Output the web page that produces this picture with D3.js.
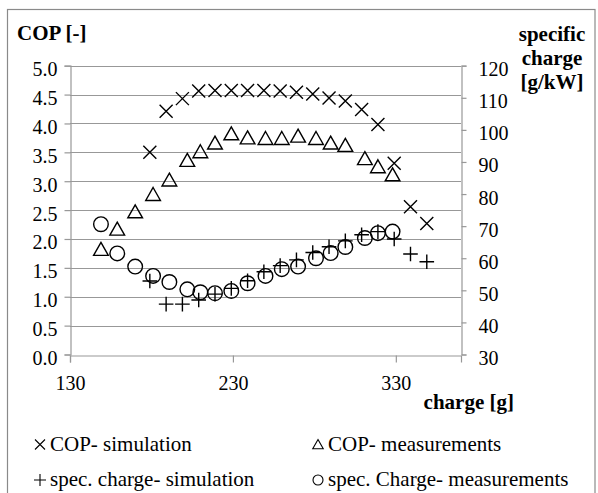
<!DOCTYPE html>
<html>
<head>
<meta charset="utf-8">
<script src="https://cdn.jsdelivr.net/npm/d3@7"></script>
<style>
  html, body { margin: 0; padding: 0; background: #fff; }
  svg { display: block; }
</style>
</head>
<body>
<svg id="chart" width="598" height="493"></svg>
<script>
// Charge [g] of the simulated operating points
const simCharge = [179, 189, 199, 209, 219, 229, 239, 249, 259, 269, 279, 289, 299, 309, 319, 329, 339, 349];
// COP [-] from the simulation
const copSim = [3.50, 4.21, 4.43, 4.56, 4.57, 4.57, 4.57, 4.57, 4.56, 4.54, 4.51, 4.44, 4.39, 4.24, 3.98, 3.31, 2.56, 2.27];
// Specific charge [g/kW] from the simulation
const specSim = [52.9, 45.7, 45.7, 47.0, 48.8, 50.6, 53.0, 55.8, 57.7, 59.5, 61.8, 63.6, 65.4, 67.3, 68.3, 66.0, 61.3, 58.9];

// Charge [g] of the measured operating points
const measCharge = [149, 159, 170, 181, 191, 202, 210, 219, 229, 239, 250, 260, 270, 281, 290, 299, 311, 319, 328];
// Measured COP [-]
const copMeas = [1.82, 2.17, 2.47, 2.77, 3.02, 3.36, 3.51, 3.66, 3.82, 3.75, 3.74, 3.74, 3.78, 3.74, 3.66, 3.62, 3.39, 3.25, 3.11];
// Measured specific charge [g/kW]
const specMeas = [70.6, 61.5, 57.4, 54.5, 52.6, 50.3, 49.4, 49.1, 49.8, 52.2, 54.5, 56.6, 57.4, 60.0, 61.6, 63.5, 66.3, 67.8, 68.3];

// Axis ticks
const xTicks = [130, 230, 330];
const leftTicks = [0, 0.5, 1, 1.5, 2, 2.5, 3, 3.5, 4, 4.5, 5];
const rightTicks = [30, 40, 50, 60, 70, 80, 90, 100, 110, 120];

const svg = d3.select("#chart");
const plot = { left: 70, right: 461, top: 65.7, bottom: 354.5 };

const x = d3.scaleLinear().domain([130, 370]).range([plot.left, plot.right]);
const yL = d3.scaleLinear().domain([0, 5]).range([plot.bottom, plot.top]);
const yR = d3.scaleLinear().domain([30, 120]).range([plot.bottom, plot.top]);

const grey = "#989898";

// serif text helper
function serif(sel, size, bold) {
  return sel.style("font-family", d => '"Times New Roman"')
    .style("font-size", `${size}px`)
    .style("font-weight", bold ? "bold" : "normal")
    .attr("fill", "#000");
}

// outer frame
svg.append("rect")
  .attr("x", 7.5).attr("y", 9.5).attr("width", 587.5).attr("height", 500)
  .attr("fill", "none").attr("stroke", "#8a8a8a").attr("stroke-width", 1.2);

// horizontal gridlines
svg.append("g")
  .selectAll("line")
  .data(leftTicks.filter(d => d > 0))
  .join("line")
  .attr("x1", plot.left).attr("x2", plot.right)
  .attr("y1", d => Math.round(yL(d)) + 0.5).attr("y2", d => Math.round(yL(d)) + 0.5)
  .attr("stroke", grey).attr("stroke-width", 1);

// left axis
const leftAxis = d3.axisLeft(yL).tickValues(leftTicks).tickSize(6).tickPadding(7)
  .tickFormat(d3.format(".1f"));
const gL = svg.append("g").attr("transform", `translate(${plot.left + 0.5},0)`).call(leftAxis);

// right axis
const rightAxis = d3.axisRight(yR).tickValues(rightTicks).tickSize(5).tickPadding(12)
  .tickFormat(d3.format("d"));
const gR = svg.append("g").attr("transform", `translate(${plot.right + 0.5},0)`).call(rightAxis);

// bottom axis
const bottomAxis = d3.axisBottom(x).tickValues(xTicks).tickSize(7).tickPadding(9)
  .tickFormat(d3.format("d"));
const gB = svg.append("g").attr("transform", `translate(0,${Math.round(plot.bottom) + 0.5})`).call(bottomAxis);

[gL, gR, gB].forEach(g => {
  g.attr("font-family", "Times New Roman").attr("font-size", 20);
  g.select(".domain").attr("stroke", grey).attr("stroke-width", 1.2);
  g.selectAll(".tick line").attr("stroke", grey).attr("stroke-width", 1.2);
  serif(g.selectAll(".tick text"), 20, false);
});
gL.selectAll(".tick text").attr("dy", "0.5em");
gR.selectAll(".tick text").attr("dy", "0.5em");
gB.selectAll(".tick text").attr("dy", "0.9em");

// axis titles
serif(svg.append("text").attr("x", 17).attr("y", 40), 21, true).text("COP [-]");

["specific", "charge", "[g/kW]"].forEach((t, i) => {
  serif(svg.append("text").attr("text-anchor", "middle")
    .attr("x", 552).attr("y", 41 + i * 24), 21, true).text(t);
});

serif(svg.append("text").attr("x", 514).attr("y", 409).attr("text-anchor", "end"), 21, true)
  .text("charge [g]");

// marker shapes
const markers = {
  cross: r => `M${-r},${-r}L${r},${r}M${-r},${r}L${r},${-r}`,
  plus: r => `M${-r},0L${r},0M0,${-r}L0,${r}`,
  tri: r => `M0,${-r}L${r * 1.05},${r * 0.85}L${-r * 1.05},${r * 0.85}Z`,
  circle: r => `M${r},0A${r},${r} 0 1,1 ${-r},0A${r},${r} 0 1,1 ${r},0Z`
};

function drawSeries(xs, ys, yScale, shape, r) {
  svg.append("g")
    .selectAll("path")
    .data(xs.map((c, i) => [c, ys[i]]))
    .join("path")
    .attr("transform", d => `translate(${x(d[0])},${yScale(d[1])})`)
    .attr("d", markers[shape](r))
    .attr("fill", "none").attr("stroke", "#000").attr("stroke-width", 1.4);
}

drawSeries(measCharge, specMeas, yR, "circle", 7.3);
drawSeries(simCharge, specSim, yR, "plus", 7.3);
drawSeries(measCharge, copMeas, yL, "tri", 7);
drawSeries(simCharge, copSim, yL, "cross", 6.5);

// legend
const legend = [
  { shape: "cross", r: 5, x: 40, y: 444.5, label: "COP- simulation" },
  { shape: "tri", r: 5, x: 318, y: 444.5, label: "COP- measurements" },
  { shape: "plus", r: 6, x: 40, y: 480, label: "spec. charge- simulation" },
  { shape: "circle", r: 5, x: 318, y: 480, label: "spec. Charge- measurements" }
];
const lg = svg.append("g").selectAll("g").data(legend).join("g");
lg.append("path")
  .attr("transform", d => `translate(${d.x},${d.y})`)
  .attr("d", d => markers[d.shape](d.r))
  .attr("fill", "none").attr("stroke", "#000").attr("stroke-width", 1.1);
serif(lg.append("text")
  .attr("x", d => d.x + 10).attr("y", d => d.y + 6), 21, false)
  .text(d => d.label);
</script>
</body>
</html>
